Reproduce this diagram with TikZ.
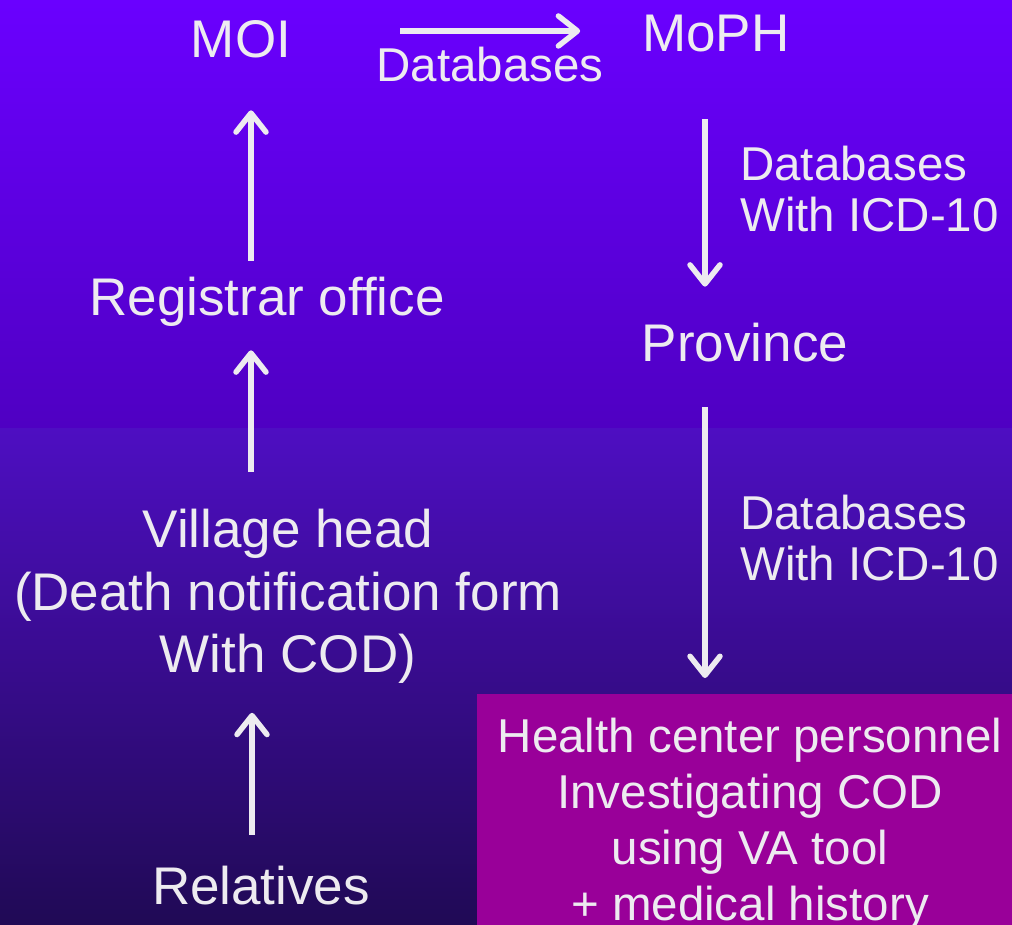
\documentclass[tikz,border=0pt]{standalone}
\usepackage{fontspec}
\setmainfont{Liberation Sans}
\usetikzlibrary{arrows.meta}

\definecolor{bgtop}{HTML}{6A00FF}
\definecolor{bgmid}{HTML}{4F00C2}
\definecolor{bglow}{HTML}{4E0EC2}
\definecolor{bgbot}{HTML}{200A55}
\definecolor{boxfill}{HTML}{990099}
\definecolor{ink}{HTML}{EDEBF0}

\tikzset{
  lbl/.style={inner sep=0pt, text=ink, font=\fontsize{53}{63}\selectfont,
              text height=38.16pt, text depth=11.13pt, anchor=base},
  multi/.style={inner sep=0pt, text=ink, align=center, anchor=north,
                font=\fontsize{53}{62.5}\selectfont},
  small/.style={inner sep=0pt, text=ink, font=\fontsize{47.5}{51}\selectfont},
  flow/.style={draw=ink, line width=5.5pt,
               -{Straight Barb[length=19pt, width=30pt, line cap=round, line join=round]}}
}

\begin{document}
\begin{tikzpicture}[x=1pt, y=-1pt]
  \useasboundingbox (0,0) rectangle (1012,925);

  % background: two graded bands
  \shade[top color=bgtop, bottom color=bgmid] (0,0) rectangle (1012,428);
  \shade[top color=bglow, bottom color=bgbot] (0,428) rectangle (1012,925);

  % health centre panel
  \fill[boxfill] (477,694) rectangle (1012,925);

  % stations
  \node[lbl] (moi)  at (241,58)  {MOI};
  \node[lbl] (moph) at (716,52)  {MoPH};
  \node[lbl] (reg)  at (267,316) {Registrar office};
  \node[lbl] (prov) at (745,361) {Province};
  \node[lbl] (rel)  at (261,904) {Relatives};
  \node[multi] (vh) at (288,509) {Village head\\(Death notification form\\With COD)};
  \node[small, align=center, anchor=north,
        font=\fontsize{47.5}{56}\selectfont] (hc) at (750,718)
       {Health center personnel\\Investigating COD\\using VA tool\\+ medical history};

  % flow labels
  \node[small, anchor=base] (dbtop) at (490,82) {Databases};
  \node[small, align=left, anchor=north west] (db1) at (740,146) {Databases\\With ICD-10};
  \node[small, align=left, anchor=north west] (db2) at (740,495) {Databases\\With ICD-10};

  % flows
  \draw[flow, shorten <=109pt, shorten >=62pt]
    ([yshift=13.5pt]moi.east) -- ([yshift=7.5pt]moph.west);
  \draw[flow, shorten <=56pt, shorten >=36pt]
    ([xshift=-11pt]moph.south) -- ([xshift=-40pt]prov.north);
  \draw[flow, shorten <=35pt, shorten >=40pt]
    ([xshift=-40pt]prov.south) -- ([xshift=-45pt]hc.north);
  \draw[flow, shorten <=17pt, shorten >=41pt]
    ([xshift=-16pt]reg.north) -- ([xshift=10pt]moi.south);
  \draw[flow, shorten <=37pt, shorten >=23pt]
    ([xshift=-37pt]vh.north) -- ([xshift=-16pt]reg.south);
  \draw[flow, shorten <=31pt, shorten >=29pt]
    ([xshift=-9pt]rel.north) -- ([xshift=-36pt]vh.south);
\end{tikzpicture}
\end{document}
